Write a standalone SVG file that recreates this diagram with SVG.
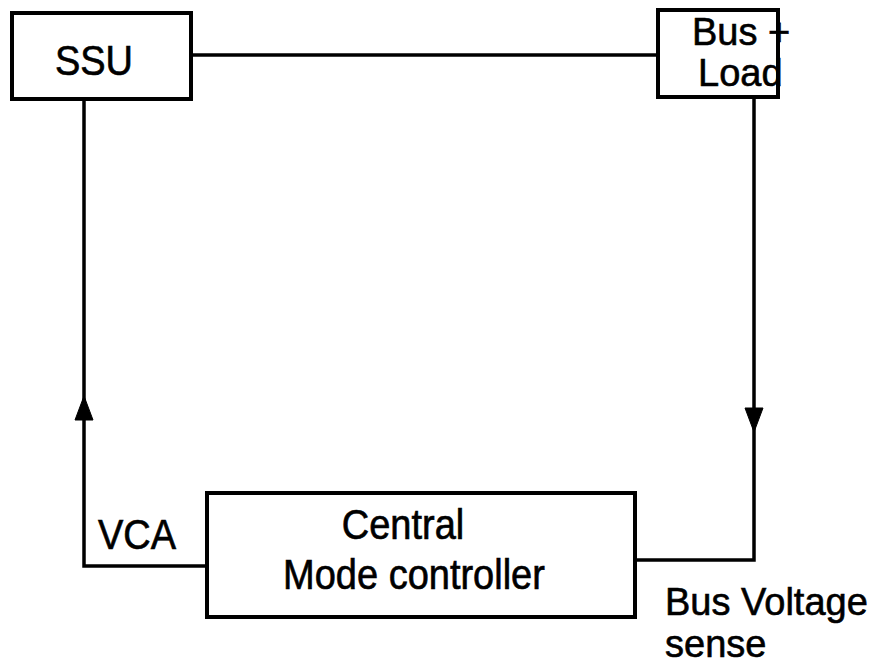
<svg xmlns="http://www.w3.org/2000/svg" width="878" height="669" viewBox="0 0 878 669">
<style>
.box{fill:#fff;stroke:#000;stroke-width:4}
.ln{fill:none;stroke:#000;stroke-width:3.5}
.ah{fill:#000;stroke:#000;stroke-width:1;stroke-linejoin:round}
text{font-family:"Liberation Sans",Arial,sans-serif;fill:#000;stroke:#000;stroke-width:0.6;font-size:38px}
</style>
<rect width="878" height="669" fill="#fff"/>
<g id="connectors">
<line class="ln" x1="191" y1="55" x2="658" y2="55"/>
<polyline class="ln" points="84,99 84,566 207,566"/>
<polyline class="ln" points="754,97 754,560 635,560"/>
<path class="ah" d="M84,396 L93,420 L75,420 Z"/>
<path class="ah" d="M745,408 L763,408 L754,432 Z"/>
</g>
<g id="ssu">
<rect class="box" x="12" y="13" width="179" height="86"/>
<text x="94" y="75" text-anchor="middle" font-size="42" transform="translate(0,-7.5) scale(1,1.1)">SSU</text>
</g>
<g id="bus-load">
<rect class="box" x="658" y="10" width="120" height="87"/>
<text x="692" y="45" font-size="36">Bus +</text>
<text x="698" y="86" font-size="36">Load</text>
</g>
<g id="controller">
<rect class="box" x="207" y="493" width="428" height="124"/>
<text x="403" y="539" text-anchor="middle" transform="translate(0,-53.9) scale(1,1.1)">Central</text>
<text x="414" y="589" text-anchor="middle" transform="translate(0,-58.9) scale(1,1.1)">Mode controller</text>
</g>
<g id="labels">
<text x="98" y="549" font-size="36" transform="translate(0,-54.9) scale(1,1.1)">VCA</text>
<text x="665" y="615" font-size="36">Bus Voltage</text>
<text x="665" y="657" font-size="36">sense</text>
</g>
</svg>
